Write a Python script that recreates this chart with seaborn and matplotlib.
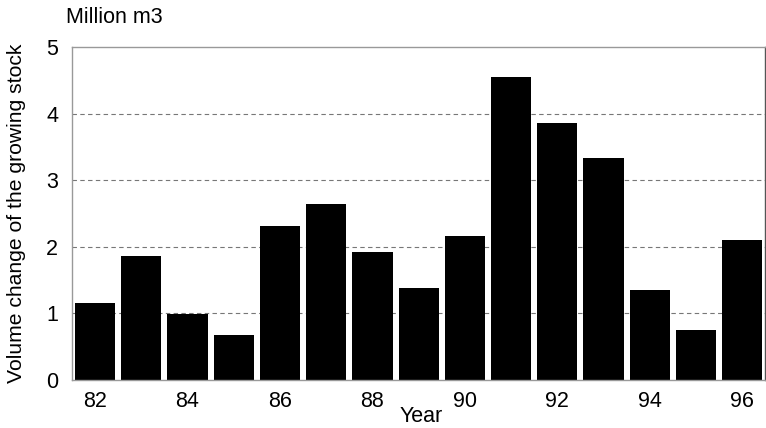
import matplotlib
matplotlib.use("Agg")
import matplotlib.pyplot as plt
import seaborn as sns
import pandas as pd

years = ["82", "83", "84", "85", "86", "87", "88", "89", "90", "91", "92", "93", "94", "95", "96"]
volume_change = [1.15, 1.86, 0.99, 0.68, 2.31, 2.64, 1.92, 1.38, 2.16, 4.55, 3.86, 3.33, 1.35, 0.75, 2.11]
y_ticks = [0, 1, 2, 3, 4, 5]
x_tick_labels = ["82", "84", "86", "88", "90", "92", "94", "96"]

df = pd.DataFrame({"year": years, "volume": volume_change})

sns.set_theme(style="white")
plt.rcParams["font.family"] = ["Liberation Sans", "DejaVu Sans"]
plt.rcParams["text.color"] = "black"
plt.rcParams["axes.labelcolor"] = "black"

fig = plt.figure(figsize=(7.66, 4.28), dpi=100)
ax = fig.add_axes([0.094, 0.112, 0.905, 0.778])

sns.barplot(data=df, x="year", y="volume", color="black", saturation=1,
            width=0.87, edgecolor="none", ax=ax)

ax.set_xlim(-0.5, len(years) - 0.5)
ax.set_ylim(0, 5)
ax.set_yticks(y_ticks)
ax.set_yticklabels([str(t) for t in y_ticks], fontsize=15.5)
ax.set_xticks([years.index(t) for t in x_tick_labels])
ax.set_xticklabels(x_tick_labels, fontsize=15.5)
ax.tick_params(axis="x", length=0, pad=8, colors="black")
ax.tick_params(axis="y", length=0, pad=10, colors="black")

for v in y_ticks[1:-1]:
    ax.axhline(v, color="#777777", linestyle=(0, (4, 3)), linewidth=0.8, zorder=0)

for side in ["left", "bottom", "top"]:
    ax.spines[side].set_color("#999999")
    ax.spines[side].set_linewidth(1.0)
ax.spines["right"].set_color("#555555")
ax.spines["right"].set_linewidth(1.0)

ax.set_xlabel("Year", fontsize=15.5, color="black")
ax.xaxis.set_label_coords(0.503, -0.078)
ax.set_ylabel("Volume change of the growing stock", fontsize=15.2, color="black")
ax.yaxis.set_label_coords(-0.066, 0.5)
fig.text(0.086, 0.935, "Million m3", fontsize=15.5, ha="left", va="bottom", color="black")

fig.savefig("out.png", dpi=100, facecolor="white")
